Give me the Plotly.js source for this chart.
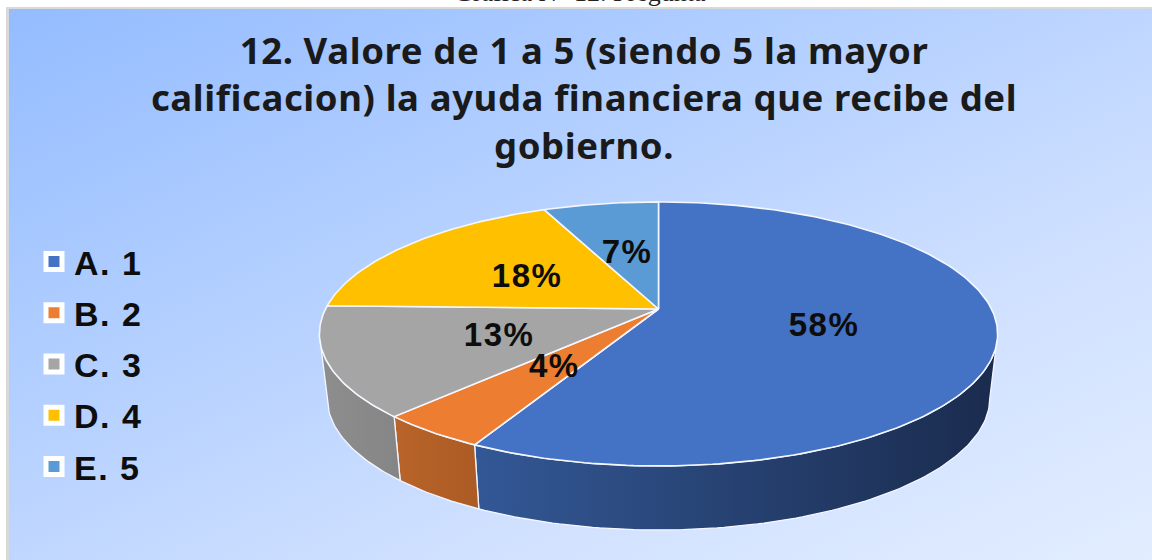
<!DOCTYPE html>
<html>
<head>
<meta charset="utf-8">
<script src="https://cdn.plot.ly/plotly-3.0.1.min.js"></script>
<style>
html,body{margin:0;padding:0;width:1152px;height:560px;overflow:hidden;background:#fff}
#panel{position:absolute;left:6px;top:7px;width:1146px;height:553px;box-sizing:border-box;
  border-left:3px solid #d9d9d9;border-top:2px solid #d9d9d9;
  background:linear-gradient(155deg,#94bcff 0%,#b4d0ff 38%,#cfe0ff 68%,#e2edff 100%)}
#chart{position:absolute;left:0;top:0;width:1152px;height:560px}
#chart .legendtext{letter-spacing:1.5px}
#chart .textpoint text{letter-spacing:1.5px}
#chart .gtitle{letter-spacing:0.6px}
</style>
</head>
<body>
<div id="panel"></div>
<div id="chart"></div>
<script>
// Data
const categories = ["A. 1", "B. 2", "C. 3", "D. 4", "E. 5"];
const shares = [57.6, 4.4, 13.4, 18.0, 6.6];
const colors = ["#4472C4", "#ED7D31", "#A5A5A5", "#FFC000", "#5B9BD5"];
const wallLeft = ["#335896", "#b8642a", "#8e8e8e", "#a88000", "#3f6f9e"];
const wallRight = ["#1a2b4d", "#ac5b24", "#858585", "#a88000", "#3f6f9e"];
const chartTitle = "12. Valore de 1 a 5 (siendo 5 la mayor<br>calificacion) la ayuda financiera que recibe del<br>gobierno.";
const caption = "Grafica N° 12. Pregunta";

// Projection of the tilted disc onto the plot axes
const view = {cx: 658.5, cy: 309, rx: 333, ry: 127.3, k: 0.189, depth: 64, shrink: 0.977,
              rimFrom: 101, rimTo: 259, labelRadius: 0.5, labelDrop: 3};
function project(deg, r, low) {
  const t = deg * Math.PI / 180;
  const u = r * Math.sin(t), v = -r * Math.cos(t);
  const d = 1 - view.k * v;
  return [
    view.cx + (low ? view.shrink : 1) * view.rx * u / d,
    view.cy + view.ry * v / d + (low ? view.depth : 0)
  ];
}
function arc(a, b, low) {
  const pts = [], n = Math.max(2, Math.ceil(Math.abs(b - a)));
  for (let i = 0; i <= n; i++) pts.push(project(a + (b - a) * i / n, 1, low));
  return pts;
}

const total = shares.reduce((s, v) => s + v, 0);
let run = 0;
const spans = shares.map(v => { const a = run; run += v; return [a / total * 360, run / total * 360]; });

const traces = [];
// Side walls (front part of the rim, between the two silhouette points)
spans.forEach((sp, i) => {
  const a = Math.max(sp[0], view.rimFrom), b = Math.min(sp[1], view.rimTo);
  if (b <= a) return;
  const pts = arc(a, b, false).concat(arc(b, a, true));
  pts.push(pts[0]);
  const xs = pts.map(p => p[0]);
  traces.push({
    type: "scatter", mode: "lines", x: xs, y: pts.map(p => p[1]),
    fill: "toself",
    fillgradient: {type: "horizontal", start: Math.min(...xs), stop: Math.max(...xs),
      colorscale: [[0, wallLeft[i]], [1, wallRight[i]]]},
    line: {color: "#f4f7ff", width: 1.3},
    hoverinfo: "skip", showlegend: false
  });
});
// Top surface slices
spans.forEach((sp, i) => {
  const pts = [[view.cx, view.cy]].concat(arc(sp[0], sp[1], false));
  pts.push([view.cx, view.cy]);
  traces.push({
    type: "scatter", mode: "lines", x: pts.map(p => p[0]), y: pts.map(p => p[1]),
    fill: "toself", fillcolor: colors[i],
    line: {color: "#f4f7ff", width: 1.6},
    name: categories[i], hoverinfo: "name", showlegend: false
  });
});
// Percent labels
const labelPts = spans.map(sp => project((sp[0] + sp[1]) / 2, view.labelRadius, false));
traces.push({
  type: "scatter", mode: "text",
  x: labelPts.map(p => p[0]), y: labelPts.map(p => p[1] + view.labelDrop),
  text: shares.map(v => Math.round(v / total * 100) + "%"),
  textposition: "middle center",
  textfont: {family: "Liberation Sans, Arial, sans-serif", size: 33, color: "#0d0d0d", weight: 700},
  hoverinfo: "skip", showlegend: false
});
// Legend entries
categories.forEach((c, i) => {
  traces.push({
    type: "scatter", mode: "markers", x: [null], y: [null], name: c, legendgroup: c,
    marker: {symbol: "square", size: 19, color: colors[i], line: {color: "#ffffff", width: 6}},
    hoverinfo: "skip"
  });
});

const layout = {
  width: 1152, height: 560,
  margin: {l: 0, r: 0, t: 0, b: 0},
  paper_bgcolor: "rgba(0,0,0,0)", plot_bgcolor: "rgba(0,0,0,0)",
  xaxis: {range: [0, 1152], visible: false, fixedrange: true},
  yaxis: {range: [560, 0], visible: false, fixedrange: true},
  title: {
    text: chartTitle, x: 0.507, xanchor: "center", y: 0.886, yanchor: "top",
    font: {family: "Noto Sans, Open Sans, sans-serif", size: 36.5, color: "#1a1a1a", weight: 700}
  },
  legend: {
    x: 34 / 1152, y: 1 - 233 / 560, yanchor: "top",
    xanchor: "left", traceorder: "grouped", tracegroupgap: 4,
    itemsizing: "trace", bgcolor: "rgba(0,0,0,0)",
    font: {family: "Liberation Sans, Arial, sans-serif", size: 34, color: "#0d0d0d", weight: 700}
  },
  annotations: [{
    text: caption, xref: "x", yref: "y", x: 580, y: 9, yanchor: "bottom", xanchor: "center",
    showarrow: false, font: {family: "Liberation Serif, serif", size: 26, color: "#222222"}
  }],
  showlegend: true
};

Plotly.newPlot("chart", traces, layout, {displayModeBar: false});
</script>
</body>
</html>
